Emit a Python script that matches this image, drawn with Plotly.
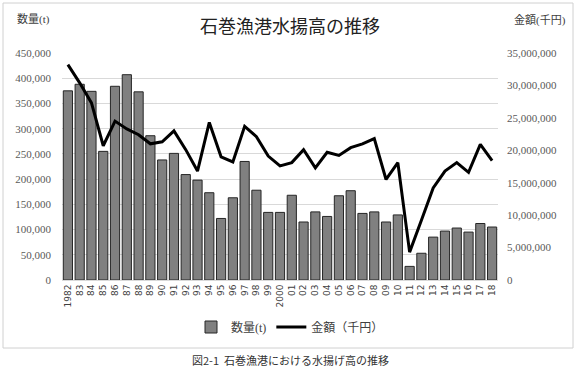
import plotly.graph_objects as go

years = ["1982","83","84","85","86","87","88","89","90","91","92","93","94","95","96","97","98","99",
         "2000","01","02","03","04","05","06","07","08","09","10","11","12","13","14","15","16","17","18"]
volume_t = [375000,388000,374000,255000,384000,407000,373000,286000,238000,251000,209000,198000,173000,
            122000,163000,235000,178000,134000,134000,168000,115000,135000,126000,167000,177000,132000,
            135000,115000,129000,27000,53000,85000,97000,103000,95000,112000,105000]
value_kyen = [33200000,30400000,27300000,20700000,24500000,23300000,22400000,21000000,21300000,23000000,
              20100000,16800000,24300000,19000000,18200000,23700000,22100000,19100000,17600000,18100000,
              20100000,17300000,19700000,19200000,20400000,21000000,21800000,15500000,18100000,4300000,
              9200000,14200000,16800000,18100000,16600000,20900000,18400000]
left_ticks = [0,50000,100000,150000,200000,250000,300000,350000,400000,450000]
right_ticks = [0,5000000,10000000,15000000,20000000,25000000,30000000,35000000]

SERIF = "Liberation Serif, DejaVu Serif, Noto Sans CJK JP"
CJK = "Noto Sans CJK JP"

fig = go.Figure()
fig.add_trace(go.Bar(x=years, y=volume_t, name="数量(t)", marker=dict(color="#808080", line=dict(color="#262626", width=1)),
                     yaxis="y"))
fig.add_trace(go.Scatter(x=years, y=value_kyen, name="金額（千円）", mode="lines",
                         line=dict(color="#000000", width=3), yaxis="y2"))

W, H = 577, 369
L, R, T, B = 62, 79, 53, 89
pw, ph = W - L - R, H - T - B
def px(x): return (x - L) / pw
def py(y): return (H - B - y) / ph

fig.update_layout(
    width=W, height=H, margin=dict(l=L, r=R, t=T, b=B),
    paper_bgcolor="white", plot_bgcolor="white",
    bargap=0.22, showlegend=True,
    font=dict(family=SERIF, color="#595959", size=11),
    xaxis=dict(type="category", tickangle=-90, tickfont=dict(family="DejaVu Sans, Noto Sans CJK JP", size=9, color="#404040"),
               showgrid=False, showline=True, linecolor="#d9d9d9", ticks="", ticklen=0),
    yaxis=dict(range=[0, 450000], tickvals=left_ticks, ticktext=[f"{v:,}" for v in left_ticks],
               showgrid=True, gridcolor="#d9d9d9", gridwidth=1, zeroline=False, ticklabelstandoff=10,
               tickfont=dict(family=SERIF, size=11, color="#595959")),
    yaxis2=dict(range=[0, 35000000], tickvals=right_ticks, ticktext=[f"{v:,}" for v in right_ticks],
                overlaying="y", side="right", showgrid=False, zeroline=False, ticklabelstandoff=8,
                tickfont=dict(family=SERIF, size=11, color="#595959")),
    legend=dict(orientation="h", x=px(290), xanchor="center", y=py(327), yanchor="middle",
                font=dict(family=SERIF, size=12, color="#404040"), bgcolor="rgba(0,0,0,0)"),
)

fig.add_annotation(text="石巻漁港水揚高の推移", x=px(290), y=py(25), xref="paper", yref="paper",
                   showarrow=False, font=dict(family=CJK, size=18, color="#222222"), xanchor="center", yanchor="middle")
fig.add_annotation(text="数量(t)", x=px(33), y=py(20), xref="paper", yref="paper",
                   showarrow=False, font=dict(family=SERIF, size=11, color="#404040"), xanchor="center", yanchor="middle")
fig.add_annotation(text="金額(千円)", x=px(540), y=py(20), xref="paper", yref="paper",
                   showarrow=False, font=dict(family=SERIF, size=11, color="#404040"), xanchor="center", yanchor="middle")
fig.add_annotation(text="図2-1  石巻漁港における水揚げ高の推移", x=px(290), y=py(360), xref="paper", yref="paper",
                   showarrow=False, font=dict(family=CJK, size=11, color="#333333"), xanchor="center", yanchor="middle")
fig.add_shape(type="rect", xref="paper", yref="paper", x0=px(3), x1=px(573), y0=py(348), y1=py(3),
              line=dict(color="#d0d0d0", width=1), layer="below")

fig.write_html("out.html")
